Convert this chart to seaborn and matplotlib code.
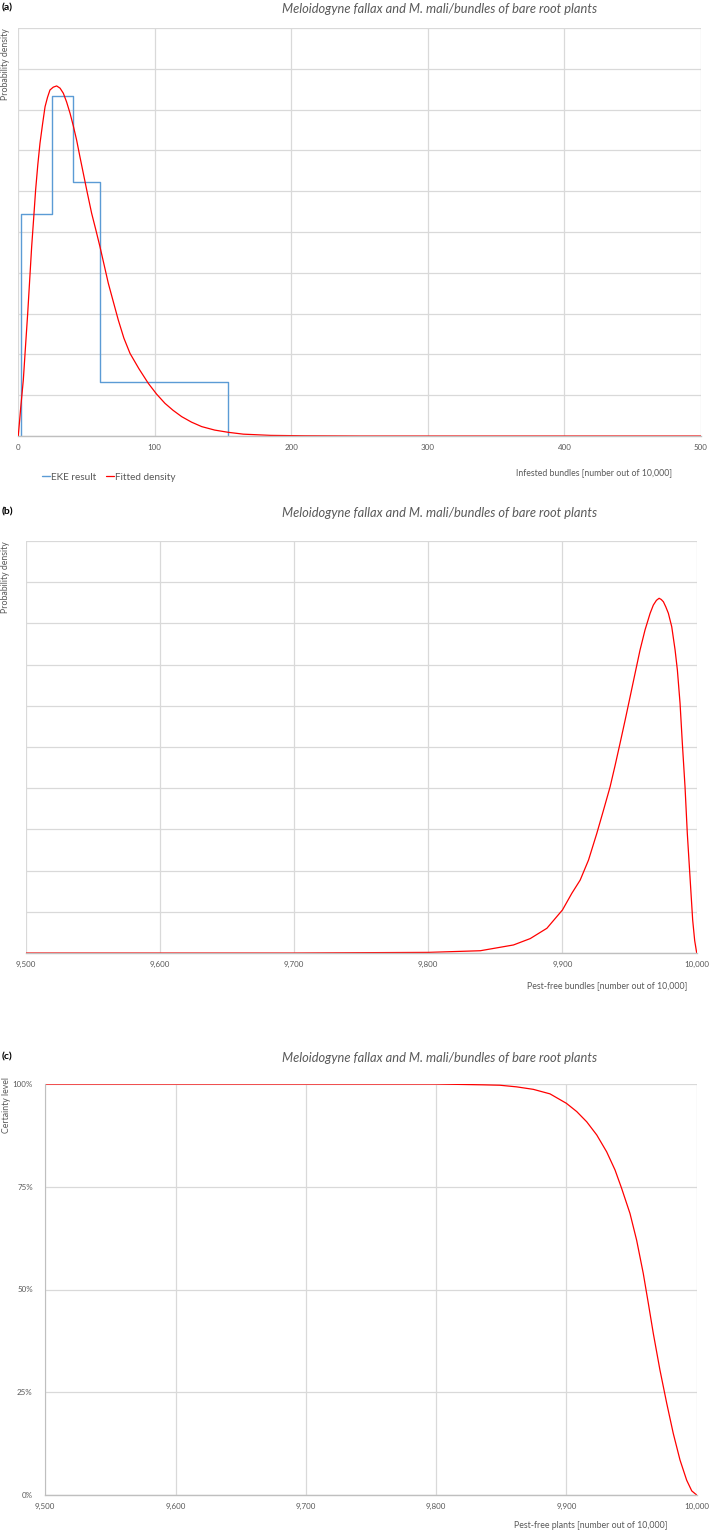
import matplotlib
matplotlib.use("Agg")
import matplotlib.pyplot as plt
import matplotlib.ticker as mticker
import seaborn as sns
import pandas as pd

# valores
titulo = "Meloidogyne fallax and M. mali/bundles of bare root plants"

# (a) resultado EKE: limites de los cuartiles y densidad de cada tramo
eke_bordes = [2.2, 25, 40, 60.3, 154]
eke_densidad = [0.01087, 0.01667, 0.01247, 0.00264]

# (a) densidad ajustada
infest_x = [0, 0.2, 2, 3.9, 5.5, 7.1, 8.6, 10.0, 11.5, 12.9, 14.5, 16.1, 18, 19.8,
            21.6, 23.4, 25.8, 28.3, 30.8, 33.2, 35.6, 38.1, 40.5, 42.9, 45.3, 47.8,
            50.8, 53.9, 57, 60.0, 63, 66.1, 69.7, 73.4, 77.5, 82, 88.5, 95.4, 101.5,
            107.6, 113.5, 119.8, 127, 134.5, 144, 154, 165, 185, 210, 250, 300, 400, 500]
infest_d = [0, 0, 0.0014, 0.00275, 0.0044, 0.00601, 0.0077, 0.00928, 0.0107, 0.01206,
            0.0133, 0.01435, 0.0153, 0.01614, 0.0166, 0.01696, 0.01710, 0.01716,
            0.01705, 0.01680, 0.01637, 0.01582, 0.0152, 0.01451, 0.0137, 0.01288,
            0.0119, 0.01092, 0.0101, 0.00928, 0.0084, 0.00749, 0.0066, 0.00569,
            0.0048, 0.00405, 0.0033, 0.00258, 0.00205, 0.0016, 0.00126, 0.00095,
            0.00068, 0.00046, 0.00029, 0.00018, 0.00009, 0.00003, 0.00001, 0, 0, 0, 0]

# (b) densidad de plantas libres de plaga
libre_x = [9500, 9700, 9800, 9838.8, 9863.5, 9876, 9888.4, 9900, 9907, 9913.2,
           9919.4, 9925.6, 9930.6, 9935.5, 9939.3, 9942.9, 9946.7, 9950.4, 9954.1,
           9957.8, 9961.5, 9965.3, 9967.7, 9970, 9972, 9973.6, 9975.2, 9977,
           9978.9, 9981.4, 9983.9, 9985.6, 9987.6, 9989.3, 9991.3, 9993, 9995,
           9997, 9998.5, 10000]
libre_d = [0, 0, 0.00003, 0.00011, 0.00039, 0.0007, 0.0012, 0.00209, 0.0029,
           0.00354, 0.00451, 0.00581, 0.00694, 0.00807, 0.00913, 0.01018, 0.01131,
           0.01244, 0.01358, 0.01471, 0.01568, 0.01649, 0.01689, 0.01712, 0.01722,
           0.01716, 0.01705, 0.01680, 0.01649, 0.01584, 0.01471, 0.01374, 0.01212,
           0.01018, 0.00807, 0.00581, 0.00370, 0.0016, 0.0006, 0]

# (c) nivel de certeza (%)
cert_x = [9500, 9800, 9836, 9849, 9861.9, 9874.6, 9887.4, 9900, 9907.9, 9915.6,
          9923.3, 9930.9, 9937.3, 9942.4, 9948.8, 9953.9, 9959, 9962.9, 9966.7,
          9971.8, 9977, 9982, 9987.2, 9992.3, 9996.2, 10000]
cert_y = [100, 100, 99.8, 99.7, 99.3, 98.7, 97.6, 95.3, 93.3, 90.8, 87.6, 83.5,
          79.1, 74.6, 68.5, 62.0, 53.9, 46.6, 39.3, 30.4, 22.3, 15.0, 8.5, 3.6,
          1.0, 0]

AZUL = "#5B9BD5"
ROJO = "#FF0000"
GRIS = "#595959"
REJILLA = "#D9D9D9"

sns.set_style("white")
plt.rcParams["font.family"] = ["Lato", "DejaVu Sans"]

fig = plt.figure(figsize=(7.09, 15.31), dpi=100)
H = 1531.0
W = 709.0


def caja(izq, der, arriba, abajo):
    return [izq / W, 1 - abajo / H, (der - izq) / W, (abajo - arriba) / H]


def estilo(ax):
    for lado in ["top", "right", "left"]:
        ax.spines[lado].set_visible(False)
    ax.spines["bottom"].set_color("#BFBFBF")
    ax.spines["bottom"].set_linewidth(1.0)
    ax.grid(True, color=REJILLA, linewidth=0.9)
    ax.set_axisbelow(True)
    ax.tick_params(length=0, labelsize=5.8, labelcolor=GRIS, pad=6)
    ax.set_xlabel("")
    ax.set_ylabel("")


# ---- (a) ----
ax1 = fig.add_axes(caja(18, 701, 28, 436))
esc_x = [eke_bordes[0]] + eke_bordes + [eke_bordes[-1]]
esc_y = [0] + eke_densidad + [eke_densidad[-1], 0]
df_eke = pd.DataFrame({"x": esc_x, "y": esc_y})
sns.lineplot(data=df_eke, x="x", y="y", ax=ax1, color=AZUL, linewidth=1.0,
             drawstyle="steps-post", estimator=None, sort=False, label="EKE result")
df_fit = pd.DataFrame({"x": infest_x, "y": infest_d})
sns.lineplot(data=df_fit, x="x", y="y", ax=ax1, color=ROJO, linewidth=0.9,
             estimator=None, sort=False, label="Fitted density")
ax1.set_xlim(0, 500)
ax1.set_ylim(0, 0.02)
ax1.set_xticks([0, 100, 200, 300, 400, 500])
ax1.set_yticks([i * 0.002 for i in range(11)])
ax1.set_yticklabels([])
estilo(ax1)
ax1.legend_.remove()
h, l = ax1.get_legend_handles_labels()
fig.legend(h, l, loc="center left", bbox_to_anchor=(33 / W, 1 - 477 / H), ncol=2,
           frameon=False, fontsize=7.2, handlelength=0.8, handletextpad=0.1,
           columnspacing=1.0, labelcolor=GRIS)

# ---- (b) ----
ax2 = fig.add_axes(caja(25.5, 696.7, 541, 953))
df_b = pd.DataFrame({"x": libre_x, "y": libre_d})
sns.lineplot(data=df_b, x="x", y="y", ax=ax2, color=ROJO, linewidth=0.9,
             estimator=None, sort=False)
ax2.set_xlim(9500, 10000)
ax2.set_ylim(0, 0.02)
ax2.set_xticks([9500, 9600, 9700, 9800, 9900, 10000])
ax2.set_yticks([i * 0.002 for i in range(11)])
ax2.set_yticklabels([])
ax2.xaxis.set_major_formatter(mticker.StrMethodFormatter("{x:,.0f}"))
estilo(ax2)

# ---- (c) ----
ax3 = fig.add_axes(caja(45.2, 696.7, 1084, 1495))
df_c = pd.DataFrame({"x": cert_x, "y": cert_y})
sns.lineplot(data=df_c, x="x", y="y", ax=ax3, color=ROJO, linewidth=0.9,
             estimator=None, sort=False)
ax3.set_xlim(9500, 10000)
ax3.set_ylim(0, 100)
ax3.set_xticks([9500, 9600, 9700, 9800, 9900, 10000])
ax3.set_yticks([0, 25, 50, 75, 100])
ax3.xaxis.set_major_formatter(mticker.StrMethodFormatter("{x:,.0f}"))
ax3.yaxis.set_major_formatter(mticker.StrMethodFormatter("{x:.0f}%"))
estilo(ax3)
ax3.spines["left"].set_visible(True)
ax3.spines["left"].set_color("#BFBFBF")
ax3.tick_params(axis="y", pad=9)

# ---- textos ----
for letra, yy in [("(a)", 8), ("(b)", 512), ("(c)", 1057)]:
    fig.text(2 / W, 1 - yy / H, letra, fontsize=7.5, fontweight="bold",
             va="center", ha="left", color="black")

for yy in [9, 513, 1058]:
    fig.text(440 / W, 1 - yy / H, titulo, fontsize=9.3, style="italic",
             color=GRIS, va="center", ha="center")

fig.text(6 / W, 1 - 28 / H, "Probability density", rotation=90, fontsize=6.3,
         color=GRIS, va="top", ha="center")
fig.text(6 / W, 1 - 541 / H, "Probability density", rotation=90, fontsize=6.3,
         color=GRIS, va="top", ha="center")
fig.text(7 / W, 1 - 1077 / H, "Certainty level", rotation=90, fontsize=6.3,
         color=GRIS, va="top", ha="center")

fig.text(672 / W, 1 - 473 / H, "Infested bundles [number out of 10,000]",
         fontsize=6.3, color=GRIS, va="center", ha="right")
fig.text(687 / W, 1 - 986 / H, "Pest-free bundles [number out of 10,000]",
         fontsize=6.3, color=GRIS, va="center", ha="right")
fig.text(667 / W, 1 - 1525 / H, "Pest-free plants [number out of 10,000]",
         fontsize=6.3, color=GRIS, va="center", ha="right")

fig.savefig("out.png", dpi=100, facecolor="white")
